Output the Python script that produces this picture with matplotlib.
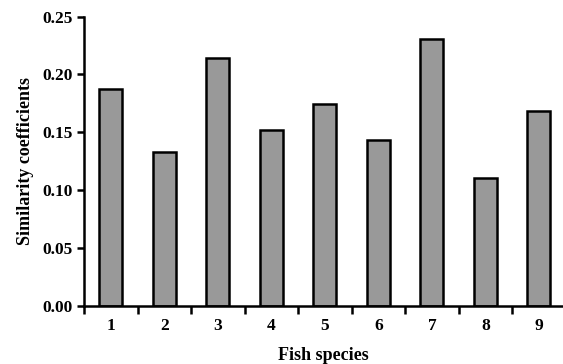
import numpy as np
from matplotlib import pyplot as plt
from matplotlib.ticker import FixedLocator

species = [1, 2, 3, 4, 5, 6, 7, 8, 9]
similarity = [0.187, 0.133, 0.214, 0.152, 0.174, 0.143, 0.231, 0.110, 0.168]
yticks = [0.00, 0.05, 0.10, 0.15, 0.20, 0.25]

plt.rc('font', family='Liberation Serif', weight='bold', size=12.5)

fig = plt.figure(figsize=(5.63, 3.64), dpi=100)
ax = fig.add_axes([84/563, 1 - 305.5/364, 1 - 84/563, (305.5 - 16.7)/364])

x = np.array(species)
ax.bar(x, similarity, width=0.43, color='#999999', edgecolor='black', linewidth=1.8)

ax.set_xlim(0.5, 9.45)
ax.set_ylim(0, 0.25)
ax.set_yticks(yticks)
ax.set_yticklabels([f'{v:.2f}' for v in yticks])
ax.set_xticks(x)
ax.set_xticklabels([str(s) for s in species])
ax.xaxis.set_minor_locator(FixedLocator(np.arange(0.5, 9.5, 1.0)))
ax.tick_params(axis='x', which='major', length=0, pad=9, labelsize=12.5)
ax.tick_params(axis='x', which='minor', length=6, width=1.8, direction='out')
ax.tick_params(axis='y', which='major', length=5, width=1.8, direction='out', pad=3, labelsize=12.5)

for s in ['top', 'right']:
    ax.spines[s].set_visible(False)
for s in ['left', 'bottom']:
    ax.spines[s].set_linewidth(1.8)

ax.set_xlabel('Fish species', fontsize=13, fontweight='bold', labelpad=9)
ax.set_ylabel('Similarity coefficients', fontsize=13, fontweight='bold', labelpad=6)

plt.savefig('out.png', dpi=100)
